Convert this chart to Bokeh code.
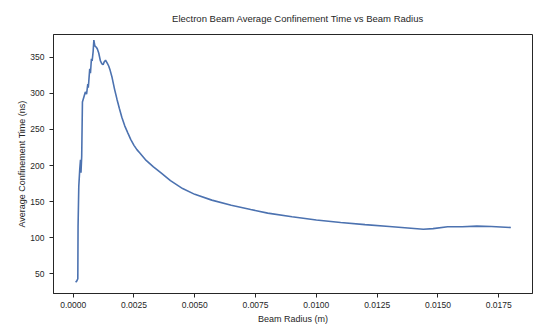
from bokeh.plotting import figure
from bokeh.models import Range1d, FixedTicker, PrintfTickFormatter
from bokeh.embed import file_html
from bokeh.resources import INLINE

# Beam radius (m) and average confinement time (ns)
radius = [0.00010, 0.00015, 0.00019, 0.00020, 0.00023, 0.00027, 0.00030, 0.00032,
          0.00035, 0.00038, 0.00044, 0.00050, 0.00055, 0.00060, 0.00062, 0.00064,
          0.00068, 0.00071, 0.00075, 0.00078, 0.00082, 0.00085, 0.00089, 0.00095,
          0.00099, 0.00105, 0.00112, 0.00118, 0.00123, 0.00128, 0.00133, 0.00140,
          0.00146, 0.00152, 0.00160, 0.00165, 0.00170, 0.00175, 0.00180, 0.00190,
          0.00200, 0.00212, 0.00225, 0.00237, 0.00250, 0.00262, 0.00275, 0.00300,
          0.00330, 0.00360, 0.00400, 0.00450, 0.00500, 0.00570, 0.00650, 0.00730,
          0.00800, 0.00900, 0.01000, 0.01100, 0.01200, 0.01300, 0.01440, 0.01480,
          0.01540, 0.01600, 0.01660, 0.01720, 0.01800]
confinement = [38, 40, 43, 115, 171, 195, 208, 190,
               213, 288, 295, 302, 299, 313, 308, 316,
               334, 328, 348, 345, 358, 374, 366, 364,
               362, 356, 345, 341, 340, 344, 346, 342,
               338, 332, 322, 314, 306, 299, 292, 279,
               267, 255, 245, 236, 228, 222, 217, 207,
               198, 190, 179, 168, 160, 152, 145, 139,
               134, 129, 124.5, 121, 118, 115.5, 111.5, 112.5,
               115, 115, 116, 115.5, 114]

x_ticks = [0.0, 0.0025, 0.005, 0.0075, 0.01, 0.0125, 0.015, 0.0175]
y_ticks = [50, 100, 150, 200, 250, 300, 350]

title_text = "Electron Beam Average Confinement Time vs Beam Radius"
x_label = "Beam Radius (m)"
y_label = "Average Confinement Time (ns)"

FONT = "Liberation Sans"
TXT = "#262626"

p = figure(width=545, height=334, output_backend="svg", toolbar_location=None,
           x_range=Range1d(-0.00081, 0.01889), y_range=Range1d(22.5, 381.7),
           min_border_left=53, min_border_right=13, min_border_top=0,
           min_border_bottom=41, title=title_text)

p.line(radius, confinement, line_color="#4C72B0", line_width=1.6)

p.title.align = "center"
p.title.text_font = FONT
p.title.text_font_size = "9.5px"
p.title.text_font_style = "normal"
p.title.text_color = TXT
p.title.standoff = 21
p.title.padding = (10, 0, 0, 0)

p.xgrid.visible = False
p.ygrid.visible = False
p.outline_line_color = TXT
p.outline_line_width = 1
p.outline_line_alpha = 1
p.background_fill_color = "white"
p.border_fill_color = "white"

p.xaxis.ticker = FixedTicker(ticks=x_ticks)
p.xaxis.formatter = PrintfTickFormatter(format="%.4f")
p.yaxis.ticker = FixedTicker(ticks=y_ticks)

for ax, lab in ((p.xaxis, x_label), (p.yaxis, y_label)):
    ax.axis_label = lab
    ax.axis_label_text_font = FONT
    ax.axis_label_text_font_size = "9px"
    ax.axis_label_text_font_style = "normal"
    ax.axis_label_text_color = TXT
    ax.major_label_text_font = FONT
    ax.major_label_text_font_size = "8.5px"
    ax.major_label_text_color = TXT
    ax.axis_line_color = TXT
    ax.major_tick_line_color = TXT
    ax.major_tick_out = 4
    ax.major_tick_in = 0
    ax.minor_tick_line_color = None

p.xaxis.major_label_standoff = 4
p.xaxis.axis_label_standoff = 3
p.yaxis.major_label_standoff = 5
p.yaxis.axis_label_standoff = 0

open("out.html", "w").write(file_html(p, INLINE))
